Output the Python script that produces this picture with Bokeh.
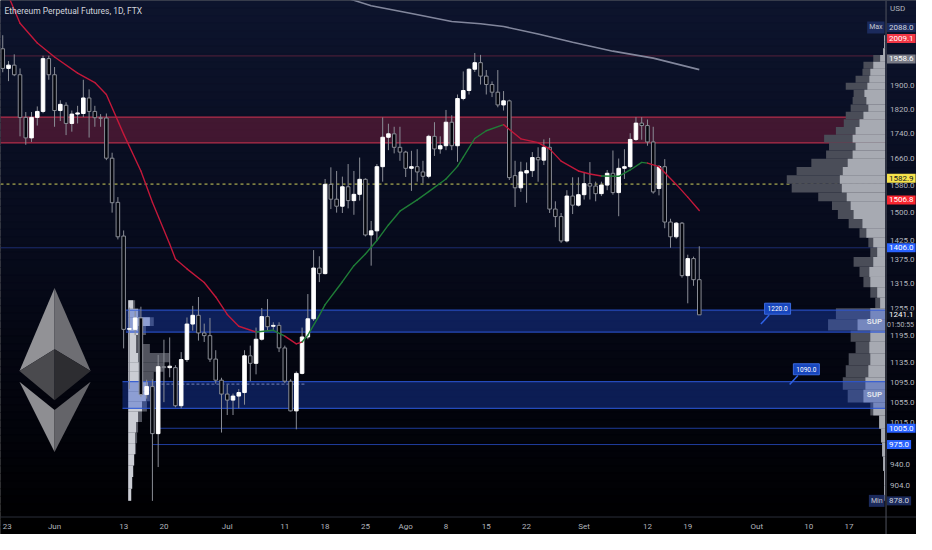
import numpy as np
import pandas as pd
from bokeh.plotting import figure
from bokeh.models import Label, Range1d, ColumnDataSource
from bokeh.core.properties import value
from bokeh.embed import file_html
from bokeh.resources import INLINE

# ---------------- data ----------------
dates = pd.date_range("2022-05-23", "2022-09-21", freq="D")
opens = [2036,1963,1975,1940,1792,1725,1792,1812,1999,1940,
         1815,1833,1772,1803,1805,1858,1812,1791,1790,1661,
         1530,1437,1208,1208,1234,1070,1086,995,1127,1125,
         1125,1048,1142,1220,1240,1200,1194,1143,1099,1071,
         1059,1067,1074,1150,1134,1186,1237,1215,1217,1167,
         1097,1038,1113,1191,1232,1354,1340,1582,1539,1519,
         1575,1535,1553,1597,1440,1451,1635,1727,1738,1695,
         1680,1630,1635,1619,1606,1730,1690,1700,1776,1700,
         1856,1884,1960,1984,1935,1905,1878,1834,1848,1608,
         1572,1616,1623,1663,1655,1695,1511,1490,1424,1548,
         1522,1552,1584,1577,1555,1580,1615,1558,1630,1635,
         1720,1773,1765,1712,1570,1635,1475,1435,1472,1335,
         1378,1325]
highs = [2088,1990,2015,1963,1810,1810,1829,2010,2010,1968,
         1850,1843,1815,1831,1922,1888,1831,1803,1805,1678,
         1545,1452,1258,1250,1260,1100,1101,1152,1185,1190,
         1130,1158,1235,1262,1283,1221,1234,1162,1104,1090,
         1072,1081,1162,1172,1212,1257,1278,1224,1224,1172,
         1101,1117,1212,1290,1400,1384,1598,1633,1622,1605,
         1643,1622,1663,1600,1478,1643,1792,1771,1761,1761,
         1684,1684,1689,1653,1735,1776,1730,1817,1799,1870,
         1952,1963,2020,2013,1957,1916,1957,1882,1852,1653,
         1650,1648,1680,1695,1720,1725,1533,1500,1565,1603,
         1603,1619,1649,1590,1590,1625,1685,1660,1689,1740,
         1793,1793,1785,1761,1640,1658,1484,1475,1475,1388,
         1383,1410]
lows = [1949,1917,1935,1730,1703,1712,1765,1806,1922,1761,
        1780,1734,1745,1772,1793,1726,1761,1761,1655,1501,
        1428,1166,1081,1195,1065,1062,878,935,1055,1105,
        1045,1043,1137,1205,1183,1180,1137,1092,997,1030,
        1030,1043,1050,1097,1111,1183,1205,1205,1158,1093,
        1037,1003,1111,1186,1227,1319,1338,1511,1501,1500,
        1513,1495,1535,1436,1360,1425,1590,1686,1676,1653,
        1604,1563,1590,1585,1600,1668,1675,1686,1686,1650,
        1850,1870,1950,1905,1870,1861,1826,1815,1595,1517,
        1560,1529,1604,1590,1640,1500,1461,1419,1420,1497,
        1518,1538,1538,1533,1548,1565,1552,1491,1598,1630,
        1715,1719,1700,1555,1550,1458,1406,1430,1330,1268,
        1310,1241]
closes = [1963,1975,1940,1792,1725,1792,1812,1999,1940,1815,
          1836,1772,1803,1807,1858,1812,1791,1789,1661,1529,
          1435,1208,1210,1234,1070,1086,995,1127,1125,1128,
          1048,1142,1220,1240,1200,1194,1143,1099,1071,1059,
          1067,1074,1150,1134,1186,1237,1214,1217,1167,1097,
          1038,1113,1191,1232,1354,1340,1582,1539,1519,1575,
          1535,1553,1597,1440,1451,1635,1727,1738,1695,1680,
          1630,1635,1619,1606,1730,1690,1700,1776,1700,1856,
          1884,1960,1984,1935,1905,1878,1834,1848,1602,1572,
          1619,1623,1663,1656,1695,1511,1490,1424,1548,1522,
          1552,1584,1577,1555,1580,1615,1558,1630,1635,1720,
          1773,1765,1712,1560,1635,1475,1435,1472,1335,1378,
          1325,1241.1]

# moving average (trend coloured)
ma_dates = ["2022-05-24","2022-05-26","2022-05-29","2022-06-01","2022-06-05","2022-06-08",
            "2022-06-10","2022-06-13","2022-06-16","2022-06-18","2022-06-21","2022-06-22",
            "2022-06-24","2022-06-27","2022-06-29","2022-07-01","2022-07-03","2022-07-06",
            "2022-07-09","2022-07-11","2022-07-13","2022-07-14","2022-07-15","2022-07-17",
            "2022-07-18","2022-07-21","2022-07-23","2022-07-25","2022-07-27","2022-07-29",
            "2022-07-31","2022-08-03","2022-08-05","2022-08-08","2022-08-10","2022-08-11",
            "2022-08-13","2022-08-15","2022-08-18","2022-08-21","2022-08-24","2022-08-26",
            "2022-08-28","2022-08-31","2022-09-02","2022-09-04","2022-09-07","2022-09-09",
            "2022-09-11","2022-09-12","2022-09-14","2022-09-17","2022-09-19","2022-09-21"]
ma_values = [2245,2135,2058,2005,1946,1912,1870,1737,1622,1530,1416,1377,1352,1318,1283,
             1242,1215,1202,1206,1193,1176,1180,1195,1240,1265,1320,1360,1390,1425,1467,
             1505,1537,1561,1598,1636,1664,1723,1748,1768,1722,1710,1690,1652,1622,1613,
             1607,1606,1625,1648,1646,1635,1582,1545,1507]
ma_trend = (["dn"] * 17 + ["up", "up", "dn", "dn"] + ["up"] * 17 +
            ["dn"] * 7 + ["up"] * 4 + ["dn"] * 5)

# long moving average (grey)
lt_dates = ["2022-07-21","2022-07-23","2022-07-26","2022-08-02","2022-08-09","2022-08-14",
            "2022-08-18","2022-08-24","2022-08-30","2022-09-06","2022-09-13","2022-09-21"]
lt_values = [2242,2228,2206,2174,2142,2133,2122,2093,2061,2027,2001,1958.6]

# zones and levels
res_zone = (1709, 1793)
sup_lo = [1202, 1043]
sup_hi = [1252, 1096]
sup_start = ["2022-06-13", "2022-06-13"]
level_values = [2009.1, 1582.9, 1406.0, 1005.0, 975.0]
level_start = [None, None, None, "2022-06-19", "2022-06-18"]
callout_values = [1220.0, 1090.0]
callout_dates = ["2022-10-01", "2022-10-06"]

# visible-range volume profile (rows 878 -> 2088)
vp_lo, vp_hi = 878.0, 2088.0
vp_light = [1,1,2,3,4,6,12,22,20,17,15,16,15,28,15,5,8,15,16,12,8,12,19,23,
            32,35,39,44,46,43,38,33,30,33,30,26,22,17,19,21,18,16,15,12,5,2,1,1]
vp_total = [1,1,2,3,4,6,15,38,43,40,37,30,35,58,50,10,15,22,26,32,15,17,26,37,
            48,54,68,95,100,90,75,60,57,62,50,42,40,35,33,32,40,30,23,22,12,2,1,1]

# fixed-range volume profile (June low)
jp_lo, jp_hi = 878.0, 1275.0
jp_start = "2022-06-14"
jp_light = [3,4,5,6,7,7,8,10,14,18,20,13,12,10,8,8,10,22,10,5]
jp_total = [3,4,5,6,8,9,10,14,19,22,27,26,36,42,22,14,18,26,12,7]
jp_poc = 1091.0
jp_poc_end = "2022-07-14"

tick_values = [1900, 1820, 1740, 1660, 1580, 1500, 1425, 1375, 1315, 1255, 1195,
               1135, 1095, 1055, 1015, 940, 904]
time_labels = ["23", "Jun", "13", "20", "Jul", "11", "18", "25", "Ago", "8", "15",
               "22", "Set", "12", "19", "Out", "10", "17"]
time_dates = ["2022-05-23", "2022-06-01", "2022-06-13", "2022-06-20", "2022-07-01",
              "2022-07-11", "2022-07-18", "2022-07-25", "2022-08-01", "2022-08-08",
              "2022-08-15", "2022-08-22", "2022-09-01", "2022-09-12", "2022-09-19",
              "2022-10-01", "2022-10-10", "2022-10-17"]
flag_values = [2088.0, 2009.1, 1958.6, 1582.9, 1506.8, 1406.0, 1241.1, 1005.0, 975.0, 878.0]

# ---------------- geometry / style ----------------
REF_W, REF_H = 932.0, 550.0
X0_PX, PX_PER_DAY = 55.0, 5.857
Y0_PX, Y0_PRICE, PX_PER_LN = 88.0, 1900.0, 553.6
REF = pd.Timestamp("2022-06-01")
FONT = "Roboto"


def px_day(px):
    return (px - X0_PX) / PX_PER_DAY


def px_price(py):
    return Y0_PRICE * np.exp((Y0_PX - py) / PX_PER_LN)


def dnum(s):
    return float((pd.Timestamp(s) - REF).days)


def up(price, px):
    return price * np.exp(px / PX_PER_LN)


X_LEFT, X_RIGHT = px_day(0), px_day(REF_W)
X_PLOT_END = px_day(900)
X_AXIS = px_day(901)

p = figure(width=916, height=534, x_range=Range1d(X_LEFT, X_RIGHT),
           y_range=Range1d(px_price(REF_H), px_price(0)), y_axis_type="log",
           x_axis_location=None, y_axis_location=None, toolbar_location=None,
           output_backend="svg", min_border=0, outline_line_color=None,
           background_fill_color="#000000", border_fill_color="#000000")
p.xgrid.visible = False
p.ygrid.visible = False

# background gradient
edges = np.linspace(0, REF_H, 71)
st = [0, 0.45, 0.8, 0.96, 1.0]
rgb = np.array([(13, 20, 45), (7, 11, 28), (2, 3, 10), (0, 0, 2), (0, 0, 0)], float)
cols = []
for i in range(len(edges) - 1):
    t = 0.5 * (edges[i] + edges[i + 1]) / REF_H
    c = [int(round(np.interp(t, st, rgb[:, k]))) for k in range(3)]
    cols.append("#%02x%02x%02x" % tuple(c))
p.quad(left=X_LEFT, right=X_RIGHT, top=[px_price(e) for e in edges[:-1]],
       bottom=[px_price(e) for e in edges[1:]], fill_color=cols, line_color=cols)

# resistance zone
p.quad(left=X_LEFT, right=X_PLOT_END, bottom=res_zone[0], top=res_zone[1],
       fill_color="#7a1f3d", fill_alpha=0.5, line_color=None)
for v in res_zone:
    p.line([X_LEFT, X_PLOT_END], [v, v], line_color="#c0304c", line_width=1.2, line_alpha=0.9)

# horizontal levels
lvl_col = ["#55203a", "#d2d25c", "#1d2c70", "#1f3c9c", "#1f3c9c"]
lvl_dash = ["solid", "3 3", "solid", "solid", "solid"]
for v, s, c, d in zip(level_values, level_start, lvl_col, lvl_dash):
    x0 = X_LEFT if s is None else dnum(s)
    p.line([x0, X_PLOT_END], [v, v], line_color=c, line_width=1, line_dash=d)

# long MA
p.line([dnum(d) for d in lt_dates], lt_values, line_color="#8f94a8", line_width=1.6, line_alpha=0.9)

# June fixed-range profile
jstep = (jp_hi - jp_lo) / len(jp_light)
jb = [jp_lo + i * jstep for i in range(len(jp_light))]
jt = [b + jstep for b in jb]
jx0 = dnum(jp_start) - 0.2
p.quad(left=jx0, right=[jx0 + v / PX_PER_DAY for v in jp_total], bottom=jb, top=jt,
       fill_color="#5f626c", fill_alpha=0.85, line_color=None)
p.quad(left=jx0, right=[jx0 + v / PX_PER_DAY for v in jp_light], bottom=jb, top=jt,
       fill_color="#d6d8de", fill_alpha=0.92, line_color=None)
p.line([dnum("2022-06-19") - 0.3, dnum(jp_poc_end) + 0.7], [jp_poc, jp_poc],
       line_color="#c8cad2", line_dash="3 2", line_width=1, line_alpha=0.8)

# visible-range profile
vstep = (vp_hi - vp_lo) / len(vp_light)
vb = [vp_lo + i * vstep for i in range(len(vp_light))]
vt = [b + vstep for b in vb]
p.quad(right=X_PLOT_END, left=[X_PLOT_END - v / PX_PER_DAY for v in vp_total], bottom=vb, top=vt,
       fill_color="#4a4d58", line_color=None)
p.quad(right=X_PLOT_END, left=[X_PLOT_END - v / PX_PER_DAY for v in vp_light], bottom=vb, top=vt,
       fill_color="#a7aab2", line_color=None)

# support zones
sup_off = [0.4, -0.2]
for lo, hi, s, o in zip(sup_lo, sup_hi, sup_start, sup_off):
    x0 = dnum(s) + o
    p.quad(left=x0, right=X_PLOT_END, bottom=lo, top=hi, fill_color="#1e4bd2",
           fill_alpha=0.36, line_color=None)
    for v in (lo, hi):
        p.line([x0, X_PLOT_END], [v, v], line_color="#2a56d6", line_width=1.2, line_alpha=0.85)

# candles
day = np.array([(d - REF).days for d in dates], float)
o = np.array(opens, float); c = np.array(closes, float)
rising = c >= o
src = ColumnDataSource(dict(x=day, hi=highs, lo=lows, top=np.maximum(o, c), bot=np.minimum(o, c),
                            fill=np.where(rising, "#ffffff", "#03050c"),
                            line=np.where(rising, "#ffffff", "#8a8d96")))
p.segment(x0="x", x1="x", y0="lo", y1="hi", source=src, line_color="#8a8d96", line_width=1)
p.vbar(x="x", width=0.62, top="top", bottom="bot", source=src, fill_color="fill",
       line_color="line", line_width=1)

# trend MA
mx = [dnum(d) for d in ma_dates]
seg_c = ["#c2183a" if t == "dn" else "#1f7d37" for t in ma_trend[:-1]]
p.segment(x0=mx[:-1], y0=ma_values[:-1], x1=mx[1:], y1=ma_values[1:], line_color=seg_c,
          line_width=1.4, line_cap="round")

# Ethereum logo (decoration, reference pixel geometry)
T, L, R, M, B1 = (55, 296), (19.3, 381.7), (91.7, 381.7), (55, 359.3), (55, 411.7)
L2, R2, IT, B2 = (19.3, 392.7), (91.7, 392.7), (55, 421.7), (55, 465)
facets = [(T, L, M), (T, R, M), (L, M, B1), (R, M, B1), (L2, IT, B2), (R2, IT, B2)]
fcols = ["#929296", "#6e6e73", "#4a4a4e", "#2d2d31", "#8e8e92", "#646469"]
p.patches([[px_day(q[0]) for q in f] for f in facets], [[px_price(q[1]) for q in f] for f in facets],
          fill_color=fcols, line_color=None)

# separators
p.line([X_LEFT, X_RIGHT], [px_price(532)] * 2, line_color="#2a2e39", line_width=1)
p.line([X_AXIS, X_AXIS], [px_price(0), px_price(550)], line_color="#50535e", line_width=1)

# price tick labels
p.text(x=[px_day(905)] * len(tick_values), y=tick_values, text=["%.1f" % v for v in tick_values],
       text_font=value(FONT), text_font_size="8px", text_color="#b2b5be",
       text_align="left", text_baseline="middle")
# time labels (first one sits on the left edge, so it is left-aligned to stay whole)
tx = [dnum(d) for d in time_dates]
tx[0] = max(tx[0], px_day(1))
p.text(x=tx[:1], y=[px_price(542)], text=time_labels[:1],
       text_font=value(FONT), text_font_size="8px", text_color="#b2b5be",
       text_align="left", text_baseline="middle")
p.text(x=tx[1:], y=[px_price(542)] * (len(tx) - 1), text=time_labels[1:],
       text_font=value(FONT), text_font_size="8px", text_color="#b2b5be",
       text_align="center", text_baseline="middle")

# SUP tags
p.text(x=[px_day(897)] * 2, y=[np.sqrt(a * b) for a, b in zip(sup_lo, sup_hi)], text=["SUP", "SUP"],
       text_font=value(FONT), text_font_size="8px", text_font_style="bold", text_color="#e0e3eb",
       text_align="right", text_baseline="middle")

# callouts
for v, d in zip(callout_values, callout_dates):
    cx = dnum(d) + 0.7
    p.segment(x0=[cx], y0=[v], x1=[cx + 8.4 / PX_PER_DAY], y1=[up(v, 9.3)],
              line_color="#2f62e6", line_width=1.5)
    p.add_layout(Label(x=cx + 17 / PX_PER_DAY, y=up(v, 15.8), text="%.1f" % v, text_font=FONT,
                       text_font_size="6.5px", text_color="#ffffff", text_align="center",
                       text_baseline="middle", background_fill_color="#1746bd",
                       border_line_color="#3a6ae0", padding=3))

# price flags
flag_bg = ["#1b2a5c", "#f23645", "#787b86", "#f5e24b", "#f7252f", "#2962ff", "#0b0f1c",
           "#2962ff", "#2962ff", "#1b2a5c"]
flag_fg = ["#d1d4dc", "#ffffff", "#ffffff", "#131722", "#ffffff", "#ffffff", "#ffffff",
           "#ffffff", "#ffffff", "#d1d4dc"]
flag_shift = [8, 18, 11, 6, 11, 0, 0, 0, 0, 0]
for v, bg, fg, sh in zip(flag_values, flag_bg, flag_fg, flag_shift):
    p.add_layout(Label(x=px_day(902), y=up(v, sh), text="%.1f" % v, text_font=FONT,
                       text_font_size="8px", text_color=fg, text_align="left",
                       text_baseline="middle", background_fill_color=bg, padding=2))
for t, v, sh in (("Max", 2088.0, 8), ("Min", 878.0, 0)):
    p.add_layout(Label(x=px_day(899.5), y=up(v, sh), text=t, text_font=FONT, text_font_size="7px",
                       text_color="#c3c6ce", text_align="right", text_baseline="middle",
                       background_fill_color="#1b2a5c", padding=2))
p.add_layout(Label(x=px_day(902), y=up(1241.1, -10), text="01:50:55", text_font=FONT,
                   text_font_size="7px", text_color="#b2b5be", text_align="left",
                   text_baseline="middle"))
p.add_layout(Label(x=px_day(905), y=px_price(8), text="USD", text_font=FONT, text_font_size="8px",
                   text_color="#b2b5be", text_align="left", text_baseline="middle"))
p.add_layout(Label(x=px_day(4), y=px_price(11), text="Ethereum Perpetual Futures, 1D, FTX",
                   text_font=FONT, text_font_size="8.5px", text_color="#d1d4dc",
                   text_align="left", text_baseline="middle"))

open("out.html", "w").write(file_html(p, INLINE))
